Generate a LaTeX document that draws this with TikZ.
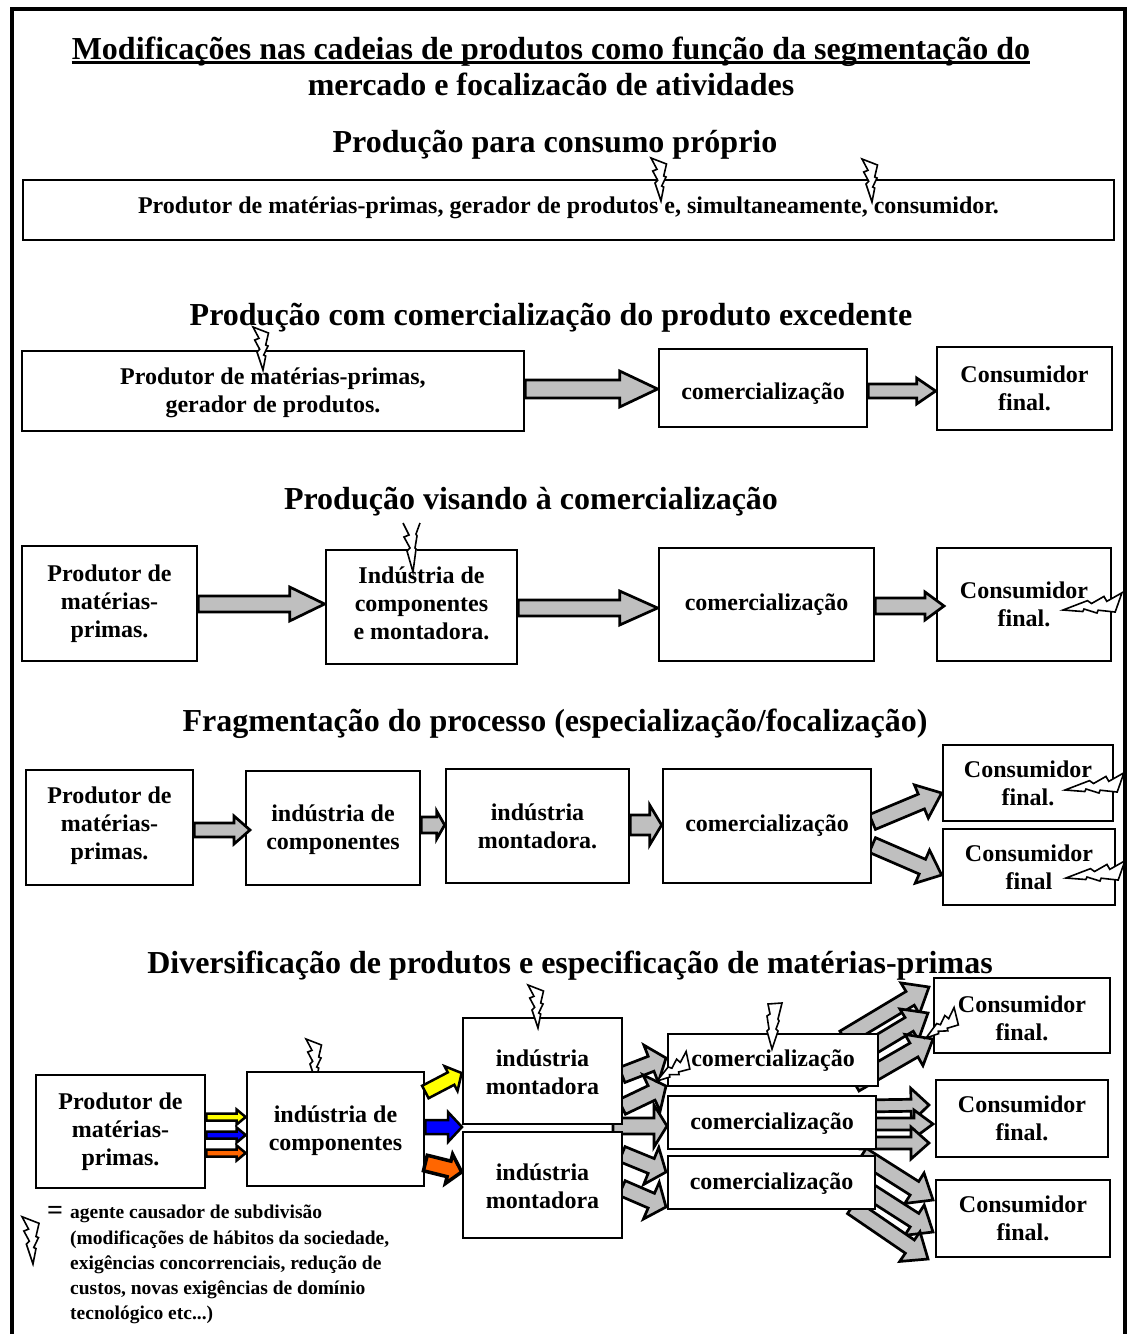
\documentclass[tikz,border=0pt]{standalone}
\usepackage{fontspec}
\setmainfont{Liberation Serif}
\usetikzlibrary{calc,backgrounds}

\newcommand{\fatarrow}[6][grayfill]{%
    % start, tip, half width of the body, half width of the head, head length
    \coordinate (arrbase) at ($(#3)!#6pt!(#2)$);
    \draw[fatline, fill=#1]
        ($(#2)!#4pt!90:(#3)$) -- ($(arrbase)!#4pt!90:(#3)$) -- ($(arrbase)!#5pt!90:(#3)$)
        -- (#3) -- ($(arrbase)!#5pt!-90:(#3)$) -- ($(arrbase)!#4pt!-90:(#3)$)
        -- ($(#2)!#4pt!-90:(#3)$) -- cycle;
}

\definecolor{grayfill}{gray}{0.75}
\definecolor{yellowfill}{RGB}{255,255,0}
\definecolor{bluefill}{RGB}{0,0,255}
\definecolor{orangefill}{RGB}{255,102,0}

\tikzset{
    box/.style={draw, line width=2.7pt, fill=white, align=center, inner sep=0pt, font=\fontsize{24}{28}\bfseries\selectfont},
    headline/.style={inner sep=0pt, font=\fontsize{32}{36}\bfseries\selectfont},
    fatline/.style={draw=black, line width=2.7pt, line join=miter, miter limit=4},
    bolt/.pic={\draw[draw=black, fill=white, line width=1.6pt, line join=miter]
        (-10,-43) -- (5.5,-37) -- (2.7,-25) -- (5,-24) -- (.7,-15) -- (2.7,-14) -- (0,0)
        -- (-6,-18) -- (-3.3,-20.7) -- (-8.3,-30) -- (-4,-31.7) -- cycle;},
    boltup/.pic={\draw[draw=black, fill=white, line width=1.6pt, line join=miter]
        (-4,-45) -- (10,-46) -- (6,-30) -- (7,-28) -- (4,-20) -- (6,-18) -- (0,0)
        -- (-5,-18) -- (-3,-20) -- (-5,-33) -- (-2,-35) -- cycle;},
}

\begin{document}
\begin{tikzpicture}[x=1pt, y=-1pt]
    \useasboundingbox (0,0) rectangle (1127,1334);

    % Frame, open at the bottom
    \draw[line width=4pt] (12,1334) -- (12,9) -- (1125,9) -- (1125,1334);

    % Title
    \node[headline] (title1) at (551,51.5) {Modificações nas cadeias de produtos como função da segmentação do};
    \draw[line width=3pt] (title1.west |- 0,62) -- (title1.east |- 0,62);
    \node[headline] (title2) at (551,84) {mercado e focalizacão de atividades};

    % Own consumption
    \node[headline] (head1) at (555,144.5) {Produção para consumo próprio};
    \node[box, minimum width=1091pt, minimum height=60pt, text depth=10pt] (own) at (568.5,210)
        {Produtor de matérias-primas, gerador de produtos e, simultaneamente, consumidor.};

    % Surplus sold
    \node[headline] (head2) at (551,317.5) {Produção com comercialização do produto excedente};
    \node[box, minimum width=502pt, minimum height=80pt, text height=48pt] (prodB) at (273,391) {Produtor de matérias-primas,\\gerador de produtos.};
    \node[box, minimum width=208pt, minimum height=78pt, text height=28.5pt] (comB) at (763,388) {comercialização};
    \node[box, minimum width=175pt, minimum height=83pt] (consB) at (1024.5,388.5) {Consumidor\\final.};

    % Made for sale
    \node[headline] (head3) at (531,501.5) {Produção visando à comercialização};
    \node[box, minimum width=175pt, minimum height=115pt] (prodC) at (109.5,603.5) {Produtor de\\matérias-\\primas.};
    \node[box, minimum width=191pt, minimum height=114pt, text depth=8pt] (indC) at (421.5,607) {Indústria de\\componentes\\e montadora.};
    \node[box, minimum width=215pt, minimum height=113pt] (comC) at (766.5,604.5) {comercialização};
    \node[box, minimum width=174pt, minimum height=113pt] (consC) at (1024,604.5) {Consumidor\\final.};

    % Fragmented process
    \node[headline] (head4) at (555,723.5) {Fragmentação do processo (especialização/focalização)};
    \node[box, minimum width=167pt, minimum height=115pt, text depth=8pt] (prodD) at (109.5,827.5) {Produtor de\\matérias-\\primas.};
    \node[box, minimum width=174pt, minimum height=114pt, text height=48pt] (indD) at (333,828) {indústria de\\componentes};
    \node[box, minimum width=183pt, minimum height=114pt] (monD) at (537.5,826) {indústria\\montadora.};
    \node[box, minimum width=208pt, minimum height=114pt] (comD) at (767,826) {comercialização};
    \node[box, minimum width=170pt, minimum height=76pt] (consD) at (1028,783) {Consumidor\\final.};
    \node[box, minimum width=172pt, minimum height=76pt] (consDb) at (1029,867) {Consumidor\\final};

    % Diversified products
    \node[headline] (head5) at (570,965.5) {Diversificação de produtos e especificação de matérias-primas};
    \node[box, minimum width=169pt, minimum height=113pt] (prodE) at (120.5,1131.5) {Produtor de\\matérias-\\primas.};
    \node[box, minimum width=177pt, minimum height=114pt, text height=48pt] (indE) at (335.5,1129) {indústria de\\componentes};
    \node[box, minimum width=159pt, minimum height=106pt, text height=48pt] (monE) at (542.5,1071) {indústria\\montadora};
    \node[box, minimum width=159pt, minimum height=106pt, text height=48pt] (monEb) at (542.5,1185) {indústria\\montadora};
    \node[box, minimum width=210pt, minimum height=52pt, text height=18.5pt] (comE) at (773,1060) {comercialização};
    \node[box, minimum width=208pt, minimum height=53pt, text height=18.5pt] (comEb) at (772,1122.5) {comercialização};
    \node[box, minimum width=207pt, minimum height=53pt, text height=18.5pt] (comEc) at (771.5,1182.5) {comercialização};
    \node[box, minimum width=176pt, minimum height=75pt, text height=50pt] (consE) at (1022,1015.5) {Consumidor\\final.};
    \node[box, minimum width=172pt, minimum height=77pt] (consEb) at (1022,1118.5) {Consumidor\\final.};
    \node[box, minimum width=174pt, minimum height=77pt] (consEc) at (1023,1218.5) {Consumidor\\final.};

    % Block arrows go behind the boxes
    \begin{pgfonlayer}{background}
        \fatarrow{prodB.east |- 0,389}{comB.west |- 0,389}{9}{18}{38}
        \fatarrow{comB.east |- 0,391}{consB.west |- 0,391}{7}{13}{19}
        \fatarrow{prodC.east |- 0,604}{indC.west |- 0,604}{8}{17}{35}
        \fatarrow{indC.east |- 0,608}{comC.west |- 0,608}{8}{17}{38}
        \fatarrow{indD.east |- 0,825}{monD.west |- 0,825}{8}{14}{8}
        \fatarrow{monD.east |- 0,825}{comD.west |- 0,825}{10}{20}{12}
        \fatarrow{comD.east |- 0,822}{consD.west |- 0,793}{8}{18}{22}
        \fatarrow{comD.east |- 0,845}{consDb.west |- 0,875}{8}{18}{21}

        % bolt under the box
        \pic at (316,1082) {bolt};

        % mounting plants to the sellers
        \fatarrow{622,1075}{666,1058}{8}{20}{16}
        \fatarrow{622,1107}{666,1086}{8}{20}{16}
        \fatarrow{613,1126}{667,1126}{8}{21}{13}
        \fatarrow{622,1154}{666,1172}{8}{20}{16}
        \fatarrow{622,1188}{666,1207}{8}{20}{16}

        % sellers to the final consumers
        \fatarrow{844,1038}{929,987}{8}{18}{22}
        \fatarrow{845,1063}{928,1013}{8}{18}{22}
        \fatarrow{855,1084}{933,1039}{8}{18}{22}
        \fatarrow{860,1106}{929,1105}{6}{17}{18}
        \fatarrow{860,1124}{933,1124}{6}{14}{19}
        \fatarrow{860,1143}{929,1143}{6}{16}{18}
        \fatarrow{862,1155}{933,1200}{8}{18}{22}
        \fatarrow{855,1182}{933,1232}{8}{18}{22}
        \fatarrow{852,1207}{928,1259}{8}{18}{22}
    \end{pgfonlayer}

    % Arrows whose tips lie over the boxes
    \fatarrow{comC.east |- 0,606}{944,606}{8}{14}{19}
    \fatarrow{prodD.east |- 0,830}{250,830}{7}{14}{16}

    % Coloured arrows
    \tikzset{fatline/.append style={line width=2.5pt}}
    \fatarrow[yellowfill]{prodE.east |- 0,1117}{indE.west |- 0,1117}{3.5}{7.5}{9}
    \fatarrow[bluefill]{prodE.east |- 0,1135}{indE.west |- 0,1135}{3.5}{7.5}{9}
    \fatarrow[orangefill]{prodE.east |- 0,1153}{indE.west |- 0,1153}{3.5}{7.5}{9}
    \fatarrow[yellowfill]{indE.east |- 0,1092}{monE.west |- 0,1073}{7}{14}{12}
    \fatarrow[bluefill]{indE.east |- 0,1127}{462,1127}{7}{15}{14}
    \tikzset{fatline/.append style={line width=3.5pt}}
    \fatarrow[orangefill]{indE.east |- 0,1163}{monEb.west |- 0,1172}{8}{15}{13}

    % Bolts
    \pic at (661,201) {bolt};
    \pic at (872,202) {bolt};
    \pic at (263,370) {bolt};
    \pic[rotate=-85, xscale=1.2, yscale=1.4] at (1063,610) {bolt};
    \pic[rotate=-85, xscale=1.2, yscale=1.4] at (1065,790) {bolt};
    \pic[rotate=-85, xscale=1.2, yscale=1.4] at (1066,878) {bolt};
    \pic at (538,1028) {bolt};
    \pic at (772,1049) {boltup};
    \pic[rotate=-60, xscale=1.1, yscale=.93] at (657,1081) {bolt};
    \pic[rotate=-58, xscale=1.1, yscale=.93] at (926,1038) {bolt};

    % Open bolt on the third row
    \fill[white] (403,520) -- (408,535) -- (404,538) -- (410,548) -- (407,552) -- (413,572) -- (417,551) -- (415,548) -- (417,537) -- (416,535) -- (420,520) -- cycle;
    \draw[line width=1.6pt] (403,523) -- (409,535) -- (404,537) -- (410,548) -- (407,551) -- (413,572) -- (416,549) -- (415,548) -- (417,536) -- (416,534) -- (420,523);

    % Legend
    \pic[xscale=1.1, yscale=1.1] at (33,1264) {bolt};
    \node[inner sep=0pt, font=\fontsize{28}{28}\bfseries\selectfont] (equals) at (55,1213) {=};
    \node[inner sep=0pt, anchor=north west, align=left, font=\fontsize{19.5}{25.2}\bfseries\selectfont] (legend) at (70,1205)
        {agente causador de subdivisão\\(modificações de hábitos da sociedade,\\exigências concorrenciais, redução de\\custos, novas exigências de domínio\\tecnológico etc...)};
\end{tikzpicture}
\end{document}
